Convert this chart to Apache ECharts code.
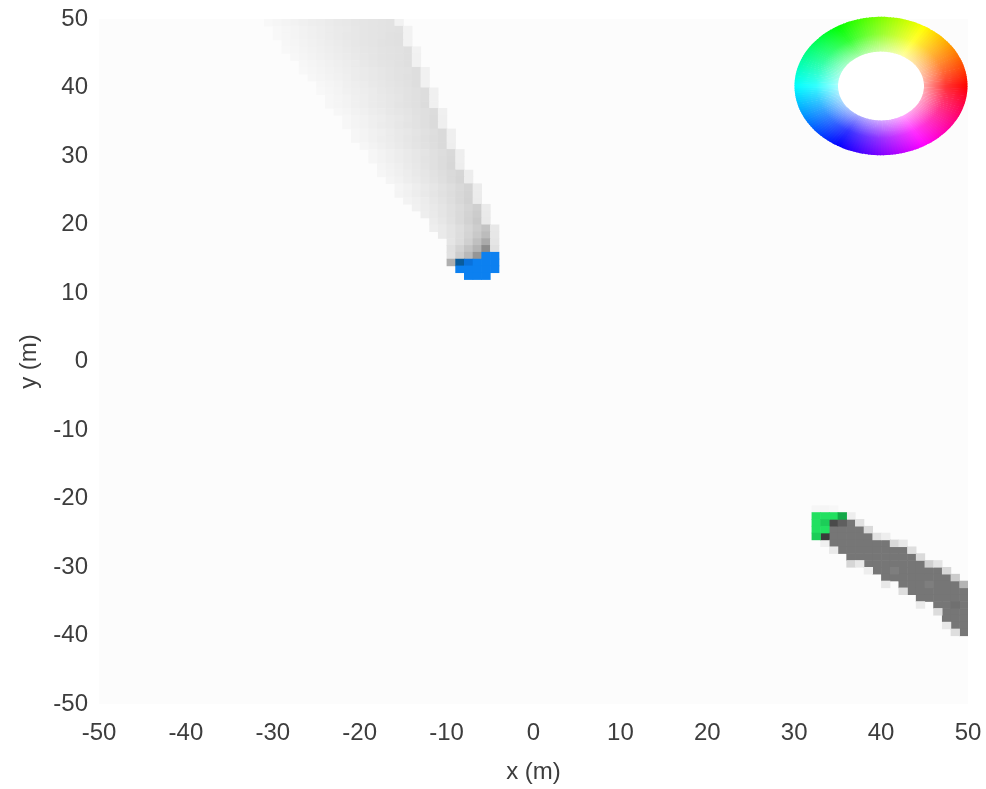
<!DOCTYPE html>
<html>
<head>
<meta charset="utf-8">
<script src="https://cdn.jsdelivr.net/npm/echarts@6/dist/echarts.min.js"></script>
<style>
html,body{margin:0;padding:0;background:#ffffff;}
#chart{width:986px;height:789px;}
</style>
</head>
<body>
<div id="chart"></div>
<script>
// ---- axis ticks ----
const xTicks = [-50, -40, -30, -20, -10, 0, 10, 20, 30, 40, 50];
const yTicks = [-50, -40, -30, -20, -10, 0, 10, 20, 30, 40, 50];

// ---- upper (faint) trail: per row y, first cell x, grey levels left→right ----
const trailRowY = [49,48,47,46,45,44,43,42,41,40,39,38,37,36,35,34,33,32,31,30,29,28,27,26,25,24,23,22,21,20,19,18,17,16,15,14];
const trailRowX0 = [-31,-30,-30,-29,-29,-28,-27,-27,-26,-25,-25,-24,-24,-23,-22,-22,-21,-21,-20,-19,-19,-18,-18,-17,-16,-16,-15,-14,-13,-12,-12,-11,-10,-10,-10,-10];
const trailRowGray = [
  [248,246,244,242,240,238,237,235,233,232,230,229,228,227,226,242],
  [248,246,244,242,240,238,236,234,233,231,229,228,227,226,225,242],
  [248,246,244,242,240,238,236,234,232,231,229,228,227,225,224,242],
  [247,245,243,241,239,237,235,233,231,229,228,226,225,224,242],
  [248,246,244,242,240,238,236,234,232,230,229,227,226,225,223,242],
  [247,245,243,241,239,237,235,233,231,229,227,226,225,223,241],
  [247,245,243,241,239,237,235,232,230,228,227,225,223,241],
  [248,246,244,242,240,238,236,234,232,230,228,226,225,222,241],
  [247,245,243,241,239,236,234,232,230,228,226,224,222,241],
  [247,245,243,240,238,236,233,231,229,227,225,222,241],
  [248,246,244,241,239,237,235,232,230,228,226,224,221,240],
  [247,245,243,240,238,235,233,231,229,226,224,221,240],
  [247,245,243,240,238,235,233,231,228,226,224,220,240],
  [247,245,242,240,237,235,232,230,228,225,223,220,240],
  [247,244,242,239,237,234,232,229,226,223,219,239],
  [247,244,242,239,236,234,231,228,226,223,219,239],
  [246,244,241,239,236,233,231,228,225,222,218,239],
  [246,244,241,238,236,233,230,227,224,221,218,239],
  [246,243,240,237,234,231,228,225,222,218,238],
  [246,243,240,237,234,231,228,224,221,217,238],
  [246,243,240,237,234,231,227,224,220,216,238],
  [245,242,239,235,232,228,224,220,215,237],
  [246,243,240,237,233,230,226,222,218,214,237],
  [245,242,238,235,231,227,223,218,213,237],
  [245,242,238,234,230,226,222,217,212,236],
  [244,241,237,233,229,225,221,216,211,236],
  [243,240,236,231,227,222,216,210,235],
  [241,237,233,229,224,219,213,207,235],
  [238,234,229,224,218,211,204,234],
  [236,231,225,218,210,201,233],
  [238,234,228,222,214,205,195,232],
  [234,228,221,212,201,188,231],
  [229,220,208,192,170,229],
  [224,211,196,180,140,225],
  [225,205,185,150],
  [175]
];

// ---- lower (dark) trail: per column x, top row, bottom row ----
const trail2X   = [34,35,36,37,38,39,40,41,42,43,44,45,46,47,48,49];
const trail2Top = [-24,-24,-24,-25,-26,-27,-27,-28,-28,-29,-30,-31,-31,-32,-33,-34];
const trail2Bot = [-27,-28,-29,-29,-30,-31,-32,-32,-33,-34,-35,-35,-36,-38,-39,-40];
const trail2Gray = 118;
// edge / special cells of the lower trail: [x, y, grey]
const trail2Extra = [
  [32,-22,246],[33,-22,245],[34,-22,247],
  [36,-23,238],[37,-24,225],[38,-25,218],[39,-26,226],[40,-26,238],[41,-27,218],[42,-27,232],
  [43,-28,222],[44,-29,218],[45,-30,208],[46,-30,228],[47,-31,216],[48,-32,204],[49,-33,180],
  [33,-27,240],[34,-28,234],[36,-30,214],[37,-30,232],[38,-31,238],[40,-33,232],[42,-34,222],
  [44,-36,234],[46,-37,220],[47,-39,232],[48,-40,222],
  [33,-26,58],[34,-24,74],[35,-24,95],[41,-31,126],[45,-33,126],[48,-36,112]
];

// ---- coloured heads: [x, y, shade index] ----
const blueCells = [
  [-6,15,0],[-5,15,0],
  [-9,14,1],[-8,14,2],[-7,14,0],[-6,14,0],[-5,14,0],
  [-9,13,0],[-8,13,0],[-7,13,0],[-6,13,0],[-5,13,0],
  [-8,12,0],[-7,12,0],[-6,12,0]
];
const blueShades = ['#0c80f0', '#0a5c9c', '#0a72dc'];
const greenCells = [
  [32,-23,0],[32,-24,0],[32,-25,0],[32,-26,2],
  [33,-23,0],[33,-24,2],[33,-25,0],
  [34,-23,0],
  [35,-23,1]
];
const greenShades = ['#22e060', '#13a848', '#1ccd58'];

// ---- build series data ----
const grayCells = [];
trailRowY.forEach((y, r) => {
  trailRowGray[r].forEach((g, k) => grayCells.push([trailRowX0[r] + k, y, g]));
});
trail2X.forEach((x, c) => {
  for (let y = trail2Top[c]; y >= trail2Bot[c]; y--) grayCells.push([x, y, trail2Gray]);
});
trail2Extra.forEach(d => grayCells.push(d));

function cellRect(api) {
  const x = api.value(0), y = api.value(1);
  const a = api.coord([x, y + 1]);
  const b = api.coord([x + 1, y]);
  return { x: a[0], y: a[1], width: b[0] - a[0] + 0.6, height: b[1] - a[1] + 0.6 };
}
function grayItem(params, api) {
  const g = Math.round(api.value(2));
  return { type: 'rect', shape: cellRect(api), style: { fill: 'rgb(' + g + ',' + g + ',' + g + ')' } };
}
function paletteItem(pal) {
  return function (params, api) {
    return { type: 'rect', shape: cellRect(api), style: { fill: pal[api.value(2)] } };
  };
}

// ---- hue wheel (direction key) ----
function hsv(h, s, v) {
  const f = n => { const k = (n + h / 60) % 6; return v - v * s * Math.max(0, Math.min(k, 4 - k, 1)); };
  return 'rgb(' + Math.round(f(5) * 255) + ',' + Math.round(f(3) * 255) + ',' + Math.round(f(1) * 255) + ')';
}
const wheelR = 86.5, wheelR0 = 43;
const wheelChildren = [{ type: 'circle', shape: { cx: 0, cy: 0, r: wheelR0 + 1 }, style: { fill: '#ffffff' }, silent: true }];
const steps = 180;
for (let i = 0; i < steps; i++) {
  const a0 = i * 360 / steps, a1 = (i + 1) * 360 / steps + 0.6;
  const hue = (360 - (a0 + 180 / steps)) % 360;
  wheelChildren.push({
    type: 'sector',
    shape: { cx: 0, cy: 0, r: wheelR, r0: wheelR0, startAngle: a0 * Math.PI / 180, endAngle: a1 * Math.PI / 180 },
    style: {
      fill: {
        type: 'radial', x: 0, y: 0, r: wheelR, global: true,
        colorStops: [
          { offset: wheelR0 / wheelR, color: hsv(hue, 0.35, 1) },
          { offset: 0.75, color: hsv(hue, 0.8, 1) },
          { offset: 1, color: hsv(hue, 1, 1) }
        ]
      }
    },
    silent: true
  });
}

const labelFont = { color: '#3d3d3d', fontSize: 24, fontFamily: 'Liberation Sans, Arial, sans-serif' };

const chart = echarts.init(document.getElementById('chart'), null, { renderer: 'canvas' });
chart.setOption({
  animation: false,
  backgroundColor: '#ffffff',
  grid: { left: 99, right: 18, top: 19, bottom: 84, show: true, backgroundColor: '#fcfcfc', borderWidth: 0 },
  xAxis: {
    type: 'value', min: xTicks[0], max: xTicks[xTicks.length - 1], interval: 10,
    axisLine: { show: false }, axisTick: { show: false }, splitLine: { show: false },
    axisLabel: Object.assign({ margin: 17, showMinLabel: true, showMaxLabel: true }, labelFont),
    name: 'x (m)', nameLocation: 'middle', nameGap: 56,
    nameTextStyle: labelFont
  },
  yAxis: {
    type: 'value', min: yTicks[0], max: yTicks[yTicks.length - 1], interval: 10,
    axisLine: { show: false }, axisTick: { show: false }, splitLine: { show: false },
    axisLabel: Object.assign({ margin: 11, showMinLabel: true, showMaxLabel: true }, labelFont),
    name: 'y (m)', nameLocation: 'middle', nameGap: 58, nameRotate: 90,
    nameTextStyle: labelFont
  },
  graphic: [{ type: 'group', x: 881, y: 86, scaleY: 0.8, children: wheelChildren, z: 100 }],
  series: [
    { type: 'custom', renderItem: grayItem, data: grayCells, encode: { x: 0, y: 1 }, clip: true, silent: true },
    { type: 'custom', renderItem: paletteItem(blueShades), data: blueCells, encode: { x: 0, y: 1 }, clip: true, silent: true },
    { type: 'custom', renderItem: paletteItem(greenShades), data: greenCells, encode: { x: 0, y: 1 }, clip: true, silent: true }
  ]
});
</script>
</body>
</html>
